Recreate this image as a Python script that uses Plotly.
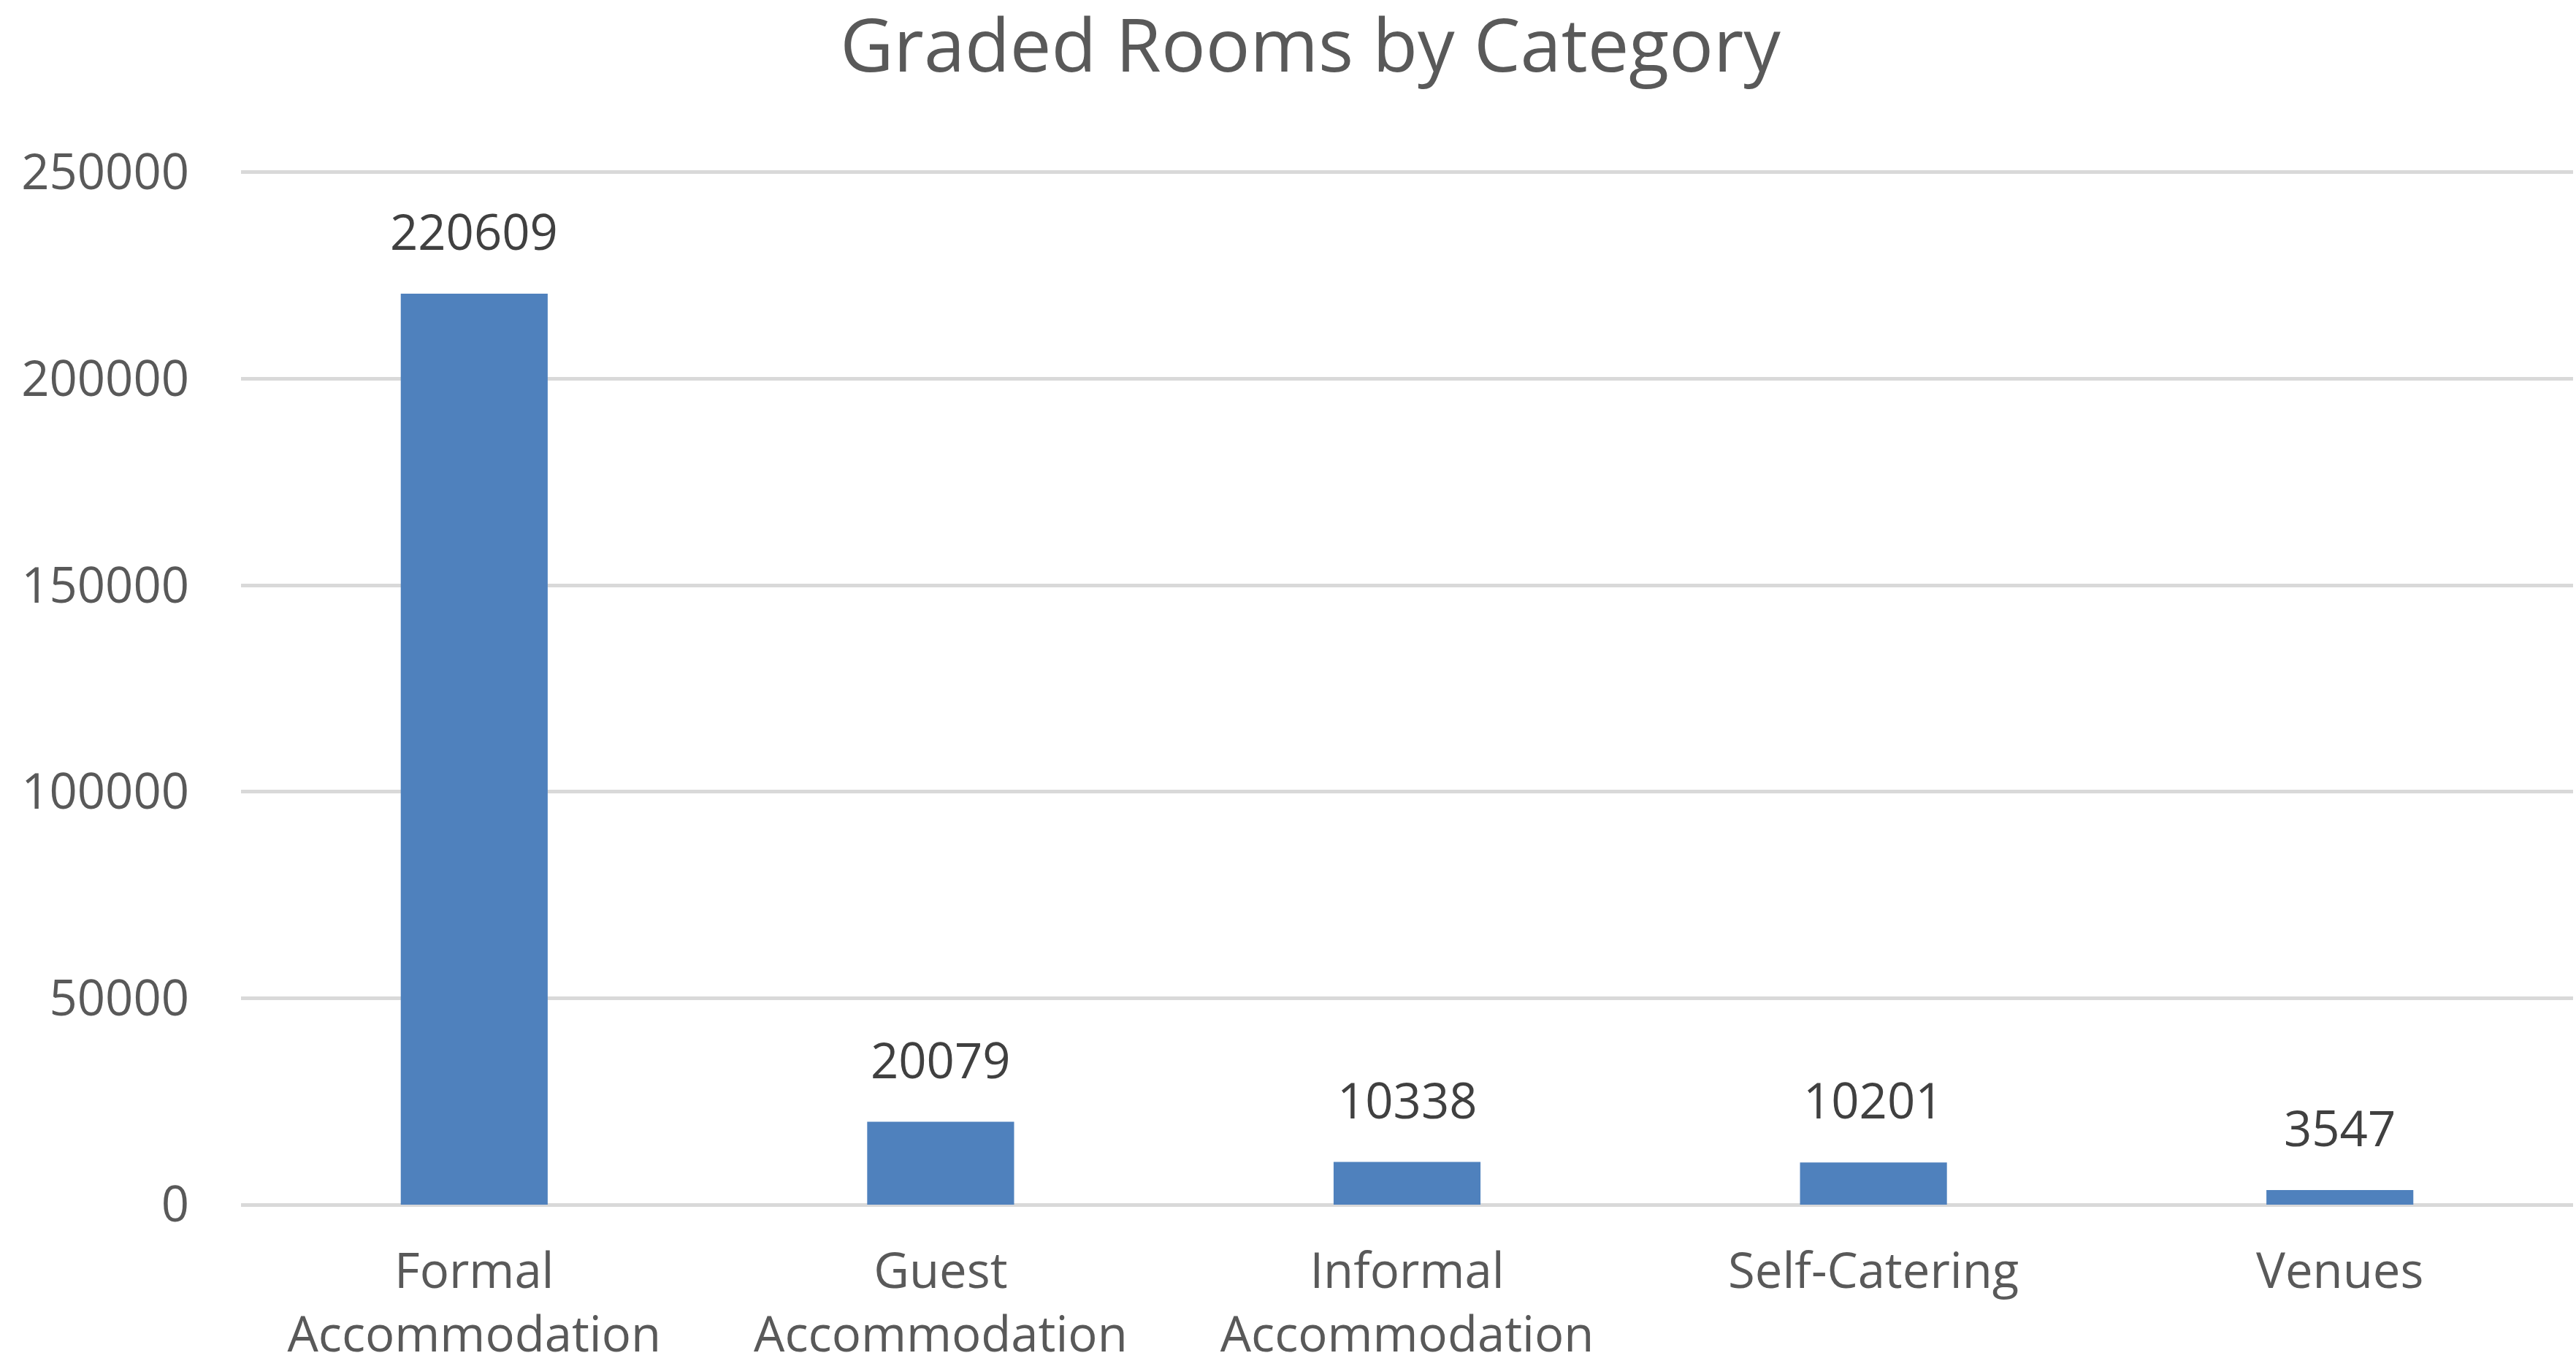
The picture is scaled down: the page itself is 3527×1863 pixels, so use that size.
import plotly.graph_objects as go

categories = ["Formal<br>Accommodation", "Guest<br>Accommodation", "Informal<br>Accommodation", "Self-Catering", "Venues"]
values = [220609, 20079, 10338, 10201, 3547]
y_ticks = [0, 50000, 100000, 150000, 200000, 250000]

FONT = "Open Sans, Noto Sans, DejaVu Sans, sans-serif"

fig = go.Figure()
fig.add_trace(go.Bar(
    x=categories, y=values,
    marker=dict(color="#4f81bd", line=dict(width=0)),
    hoverinfo="x+y",
))

for c, v in zip(categories, values):
    fig.add_annotation(
        x=c, y=v, text=str(v), showarrow=False,
        yanchor="bottom", yshift=38,
        font=dict(family=FONT, size=67, color="#404040"),
    )

fig.update_layout(
    width=3527, height=1863,
    paper_bgcolor="white", plot_bgcolor="white",
    margin=dict(l=330, r=4, t=233, b=214, autoexpand=False),
    bargap=0.685,
    showlegend=False,
    title=dict(
        text="Graded Rooms by Category",
        x=1794 / 3527, xanchor="center", xref="container",
        y=1 - 63 / 1863, yanchor="middle", yref="container",
        font=dict(family=FONT, size=101, color="#595959"),
    ),
)
fig.update_xaxes(
    type="category", automargin=False,
    showgrid=False, showline=False, zeroline=False,
    ticks="", ticklabelstandoff=46,
    tickfont=dict(family=FONT, size=67, color="#595959"),
)
fig.update_yaxes(
    range=[0, 250500], tickvals=y_ticks, ticktext=[str(t) for t in y_ticks],
    automargin=False,
    showgrid=True, gridcolor="#d9d9d9", gridwidth=5,
    zeroline=True, zerolinecolor="#d9d9d9", zerolinewidth=5,
    showline=False, ticks="", ticklabelstandoff=70,
    tickfont=dict(family=FONT, size=67, color="#595959"),
)

fig.write_html("out.html", config={"displayModeBar": False},
               post_script="document.body.style.margin='0';")
